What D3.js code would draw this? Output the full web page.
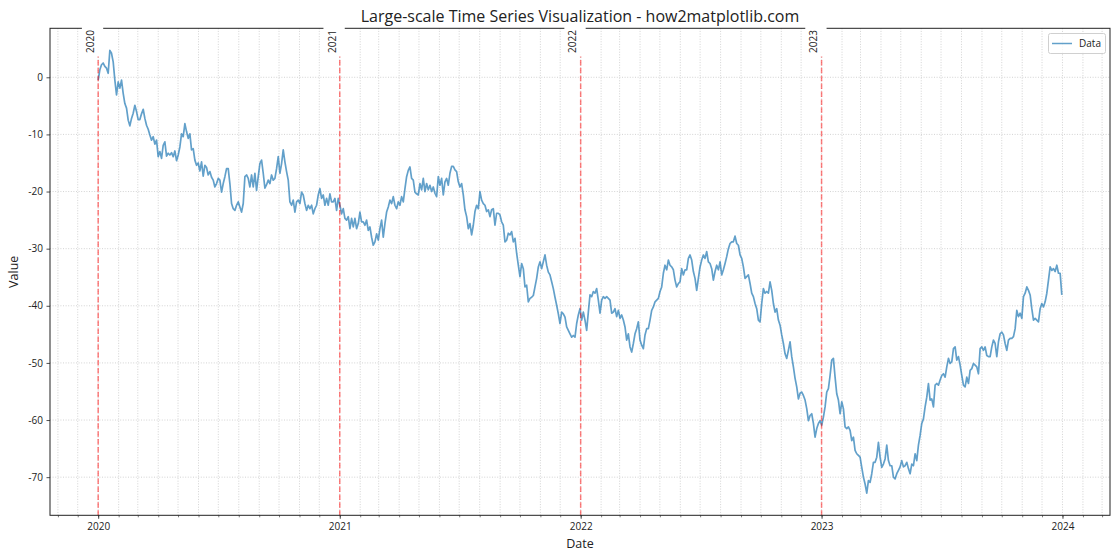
<!DOCTYPE html>
<html><head><meta charset="utf-8">
<script src="https://cdn.jsdelivr.net/npm/d3@7"></script>
<style>
body{margin:0;background:#fff}
text{font-family:"Open Sans","Noto Sans",sans-serif;fill:#222}
</style>
</head><body>
<svg id="chart" width="1120" height="560"></svg>
<script>
// ---- data ----
const startDate = "2020-01-01";
const endDate = "2023-12-31";
const values = [
-0.5,1.3,2.2,2.5,1.9,1.6,0.7,4.7,4.2,2.7,
-0.5,-3.1,-0.8,-1.9,-0.5,-2.8,-4.6,-5.4,-7.5,-8.5,
-7.2,-6.3,-4.9,-6.0,-7.4,-7.4,-6.4,-5.6,-7.2,-8.4,
-9.1,-10.1,-11,-10.4,-11.7,-11,-13.9,-13,-14.2,-11.9,
-11.3,-13.8,-13.3,-13.6,-13.2,-13.9,-12.9,-14.6,-13.6,-12.2,
-9.9,-10.4,-8.1,-9.5,-10.7,-9.9,-12.7,-12.5,-14.5,-15.4,
-15,-16.4,-14.8,-17.3,-15.4,-15.8,-17.1,-16.5,-17.5,-18,
-19.2,-18.6,-17.7,-18,-20.1,-18.6,-17.4,-16,-16,-18.6,
-22.1,-23,-23.3,-22.4,-21.8,-22.7,-23.6,-22.1,-17.4,-17.1,
-17.7,-19.2,-17.1,-19.2,-16.8,-19.8,
-17.4,-15.1,-14.5,-16.8,-19.4,-18.8,-18,-18.6,-17.1,-18,
-17.7,-16,-13.9,-16.8,-15.1,-12.7,-14.8,-16.5,-18,-21.8,
-22.4,-21.5,-23.6,-21.8,-21.5,-22.1,-20.1,-20.6,-22.1,-23.3,
-22.4,-23,-22.4,-23.9,-23,-22.4,-20.6,-19.5,-21.2,-20.6,
-22.4,-21.2,-22.4,-20.4,-21.8,-21.8,-21.2,-23.3,-21.2,-22.4,
-23.9,-23,-24.7,-25,-24.4,-26.5,-24.7,-26.2,-24.7,-26.5,
-25.6,-23.6,-25.3,-25.3,-25.9,-25,-26.8,-26.2,-28,-29.4,
-28.8,-27.4,-28.5,-26.5,-25,-28,-25.6,-23.6,-22.7,-21.5,
-22.1,-20.9,-22.4,-23,-21.8,-22.4,-20.9,-21.8,-19.5,-17.4,
-16.3,-15.7,-17.7,-18,-20.1,-20.4,
-20.6,-18.6,-19.7,-17.7,-20,-18.6,-19.7,-18.9,-20,-19.2,
-20.3,-20.9,-17.4,-18.9,-17.7,-20.6,-18.3,-17.7,-18.9,-16.8,
-15.6,-15.6,-16.2,-16.5,-18.3,-19.2,-18.6,-20.6,-23.2,-24.4,
-26.5,-25.6,-27.6,-25.9,-23.5,-22.4,-23,-20,-21.5,-22.1,
-22.4,-23.5,-23.2,-24.4,-23.2,-23,-25.9,-23.8,-23.8,-24.1,
-25.3,-25.9,-28.8,-28.5,-27.3,-27.6,-27,-28.8,-28.2,-30.8,
-32.9,-34.9,-32.6,-33.5,-36.7,-36.4,-39.3,-38.7,-38.5,-38.2,
-36.7,-35.2,-33.2,-32.3,-33.5,-32.3,-31.1,-32.9,-34.1,-34.6,
-35.8,-37,-38.5,-39.9,-41.4,-43.1,-41.1,-41.4,-42,-43.7,
-44.3,-44.9,-45.5,-45.2,-45.5,-43.1,
-41.6,-40.5,-42.5,-41.1,-42.5,-44.3,-41.1,-38.1,-38.4,-37.5,
-37.8,-37,-39,-41.3,-39,-38.4,-38.7,-38.4,-38.7,-39,
-41.3,-41.1,-40.5,-41.9,-40.8,-42.2,-41.6,-42.5,-43.7,-46,
-44.9,-47.2,-48.1,-46.6,-44.9,-44,-42.8,-46,-46.9,-47.5,
-45.1,-44,-44,-42.5,-40.8,-40.2,-39.3,-39,-38.7,-37.5,
-36.7,-34.3,-32.9,-33.7,-32,-32.9,-33.2,-33.7,-35.5,-36.7,
-36.1,-35.8,-33.5,-34.6,-33.7,-33.7,-31.7,-31.1,-32,-34,
-35.2,-37.3,-35.2,-33.2,-32,-31.1,-31.7,-30.5,-32.3,-32.6,
-33.5,-35.5,-34,-32.9,-33.7,-32.3,-34.6,-33.7,-32.6,-31.4,
-30,-29.1,-28.8,-28.8,-27.8,-29.1,
-29.4,-31.1,-31.7,-33.2,-35.2,-34.9,-34.6,-36.1,-37.8,-38.4,
-39.6,-40.5,-42.5,-42.8,-39.6,-37,-37.8,-37.5,-37.8,-35.8,
-37.3,-39.6,-41.1,-40.5,-42.5,-43.4,-45.1,-46.6,-48.4,-49.2,
-47.8,-46.3,-48.9,-50.7,-52.7,-54.2,-56.3,-55.3,-55.1,-55.7,
-56.5,-58,-60.1,-59.2,-58.9,-60.6,-63,-61.5,-60.6,-60.1,
-60.9,-59.5,-57.7,-55.1,-54.5,-52.2,-49.5,-49.2,-52.5,-55.4,
-56.5,-58.9,-56.8,-58,-61.2,-61.5,-61.2,-61.8,-63.6,-63,
-65.3,-65.9,-66.2,-66.5,-68.3,-70,-71.2,-72.8,-70.6,-70.9,
-69.4,-67.4,-67.4,-66.5,-63.9,-66.5,-68.3,-67.7,-66.8,-64.4,
-67.1,-68,-68,-70,-70.3,-69.4,
-68.8,-68.2,-67.1,-68.2,-68,-67.4,-68.5,-69.4,-67.7,-68,
-65.9,-67.1,-64.4,-62.7,-60.6,-59.8,-57.7,-56,-53.6,-56.5,
-56.3,-57.7,-53.9,-53.6,-53.9,-53,-52.2,-51.9,-52.5,-50.7,
-49.2,-50.1,-49.8,-47.5,-47.2,-49.5,-48.9,-50.4,-52.2,-53.9,
-54.2,-52.5,-53.6,-51.3,-51,-50.1,-50.4,-50.7,-51.9,-47.5,
-47.2,-47.8,-47.2,-48.7,-48.9,-48.9,-47.2,-46,-46.6,-48.9,
-46.3,-44.9,-44.6,-45.1,-46.6,-47.8,-46,-45.7,-45.7,-45.4,
-44,-40.8,-41.9,-41.3,-42.2,-38.4,-37.8,-36.7,-37.3,-38.1,
-40.5,-42.5,-42.2,-42.5,-42.8,-40.5,-39.6,-40.2,-39.3,-37.8,
-35.5,-33.2,-33.8,-33.5,-34,-32.9,-34.3,-34.3,-38.1
];
const yearMarks = ["2020-01-01","2021-01-01","2022-01-01","2023-01-01"];
const yTickValues = [0,-10,-20,-30,-40,-50,-60,-70];
const seriesName = "Data";
const titleText = "Large-scale Time Series Visualization - how2matplotlib.com";
const xLabel = "Date";
const yLabel = "Value";

// ---- layout ----
const W = 1120, H = 560;
const plot = {left: 50, right: 1110, top: 28.3, bottom: 515.3};
const lineColor = "#1f77b4";

const svg = d3.select("#chart");
const parse = d3.utcParse("%Y-%m-%d");
const t0 = parse(startDate), t1 = parse(endDate);
const n = values.length;
const data = values.map((v, i) => ({
  date: new Date(t0.getTime() + i * (t1 - t0) / (n - 1)),
  value: v
}));

const span = t1 - t0;
const x = d3.scaleUtc()
  .domain([new Date(t0.getTime() - 0.05 * span), new Date(t1.getTime() + 0.05 * span)])
  .range([plot.left, plot.right]);
const [vmin, vmax] = d3.extent(values);
const vr = vmax - vmin;
const y = d3.scaleLinear()
  .domain([vmin - 0.05 * vr, vmax + 0.05 * vr])
  .range([plot.bottom, plot.top]);

const monthTicks = x.ticks(d3.utcMonth.every(1));
const yearTicks = x.ticks(d3.utcYear.every(1));

// grid
const grid = svg.append("g");
grid.selectAll("line.vx").data(monthTicks).join("line")
  .attr("x1", d => x(d)).attr("x2", d => x(d))
  .attr("y1", plot.top).attr("y2", plot.bottom)
  .attr("stroke", "#c8c8c8").attr("stroke-width", 0.8)
  .attr("stroke-dasharray", "1,1.6");
grid.selectAll("line.hy").data(yTickValues).join("line")
  .attr("x1", plot.left).attr("x2", plot.right)
  .attr("y1", d => y(d)).attr("y2", d => y(d))
  .attr("stroke", "#c8c8c8").attr("stroke-width", 0.8)
  .attr("stroke-dasharray", "1,1.6");

// data line
const line = d3.line().x(d => x(d.date)).y(d => y(d.value));
svg.append("path").datum(data)
  .attr("d", line)
  .attr("fill", "none")
  .attr("stroke", lineColor)
  .attr("stroke-opacity", 0.7)
  .attr("stroke-width", 1.7)
  .attr("stroke-linejoin", "round");

// year markers
const marks = yearMarks.map(parse);
svg.append("g").selectAll("line").data(marks).join("line")
  .attr("x1", d => x(d)).attr("x2", d => x(d))
  .attr("y1", plot.top).attr("y2", plot.bottom)
  .attr("stroke", "red").attr("stroke-opacity", 0.5)
  .attr("stroke-width", 1.5)
  .attr("stroke-dasharray", "5.5,2.4");

// axes
const xAxisG = svg.append("g").attr("transform", `translate(0,${plot.bottom})`);
xAxisG.call(d3.axisBottom(x).tickValues(monthTicks).tickSize(2).tickFormat(""))
  .call(g => g.select(".domain").remove())
  .call(g => g.selectAll("line").attr("stroke", "#222").attr("stroke-width", 0.6));
const xMajor = svg.append("g").attr("transform", `translate(0,${plot.bottom})`);
xMajor.call(d3.axisBottom(x).tickValues(yearTicks).tickSize(3.5).tickPadding(4).tickFormat(d3.utcFormat("%Y")))
  .call(g => g.select(".domain").remove())
  .call(g => g.selectAll("line").attr("stroke", "#222").attr("stroke-width", 0.8))
  .call(g => g.selectAll("text").attr("font-size", 10).attr("fill", "#222")
    .style("font-family", '"Open Sans",sans-serif'));

const yAxisG = svg.append("g").attr("transform", `translate(${plot.left},0)`);
yAxisG.call(d3.axisLeft(y).tickValues(yTickValues).tickSize(3.5).tickPadding(3.5)
    .tickFormat(d => String(d)))
  .call(g => g.select(".domain").remove())
  .call(g => g.selectAll("line").attr("stroke", "#222").attr("stroke-width", 0.8))
  .call(g => g.selectAll("text").attr("font-size", 10).attr("fill", "#222")
    .style("font-family", '"Open Sans",sans-serif'));

// spines
svg.append("rect")
  .attr("x", plot.left).attr("y", plot.top)
  .attr("width", plot.right - plot.left).attr("height", plot.bottom - plot.top)
  .attr("fill", "none").attr("stroke", "#222").attr("stroke-width", 1);

// year labels with white boxes
const yl = svg.append("g").selectAll("g").data(marks).join("g")
  .attr("transform", d => `translate(${x(d)},0)`);
yl.append("rect")
  .attr("x", -16.3).attr("y", 18).attr("width", 21.3).attr("height", 38.5)
  .attr("fill", "#fff");
yl.append("text")
  .attr("transform", "translate(-4.2,30) rotate(-90)")
  .attr("text-anchor", "end")
  .attr("font-size", 10)
  .text(d => d3.utcFormat("%Y")(d));

// legend
const lg = svg.append("g");
lg.append("rect").attr("x", 1048.5).attr("y", 33.5).attr("width", 57).attr("height", 20)
  .attr("rx", 2).attr("fill", "#fff").attr("fill-opacity", 0.8)
  .attr("stroke", "#d0d0d0").attr("stroke-width", 1);
lg.append("line").attr("x1", 1052).attr("x2", 1072).attr("y1", 43.5).attr("y2", 43.5)
  .attr("stroke", lineColor).attr("stroke-opacity", 0.7).attr("stroke-width", 1.5);
lg.append("text").attr("x", 1079).attr("y", 47).attr("font-size", 10).text(seriesName);

// titles
svg.append("text").attr("x", (plot.left + plot.right) / 2).attr("y", 22)
  .attr("text-anchor", "middle").attr("font-size", 16).text(titleText);
svg.append("text").attr("x", (plot.left + plot.right) / 2).attr("y", 548)
  .attr("text-anchor", "middle").attr("font-size", 12.5).text(xLabel);
svg.append("text").attr("transform", `translate(18,${(plot.top + plot.bottom) / 2}) rotate(-90)`)
  .attr("text-anchor", "middle").attr("font-size", 12.5).text(yLabel);
</script>
</body></html>
